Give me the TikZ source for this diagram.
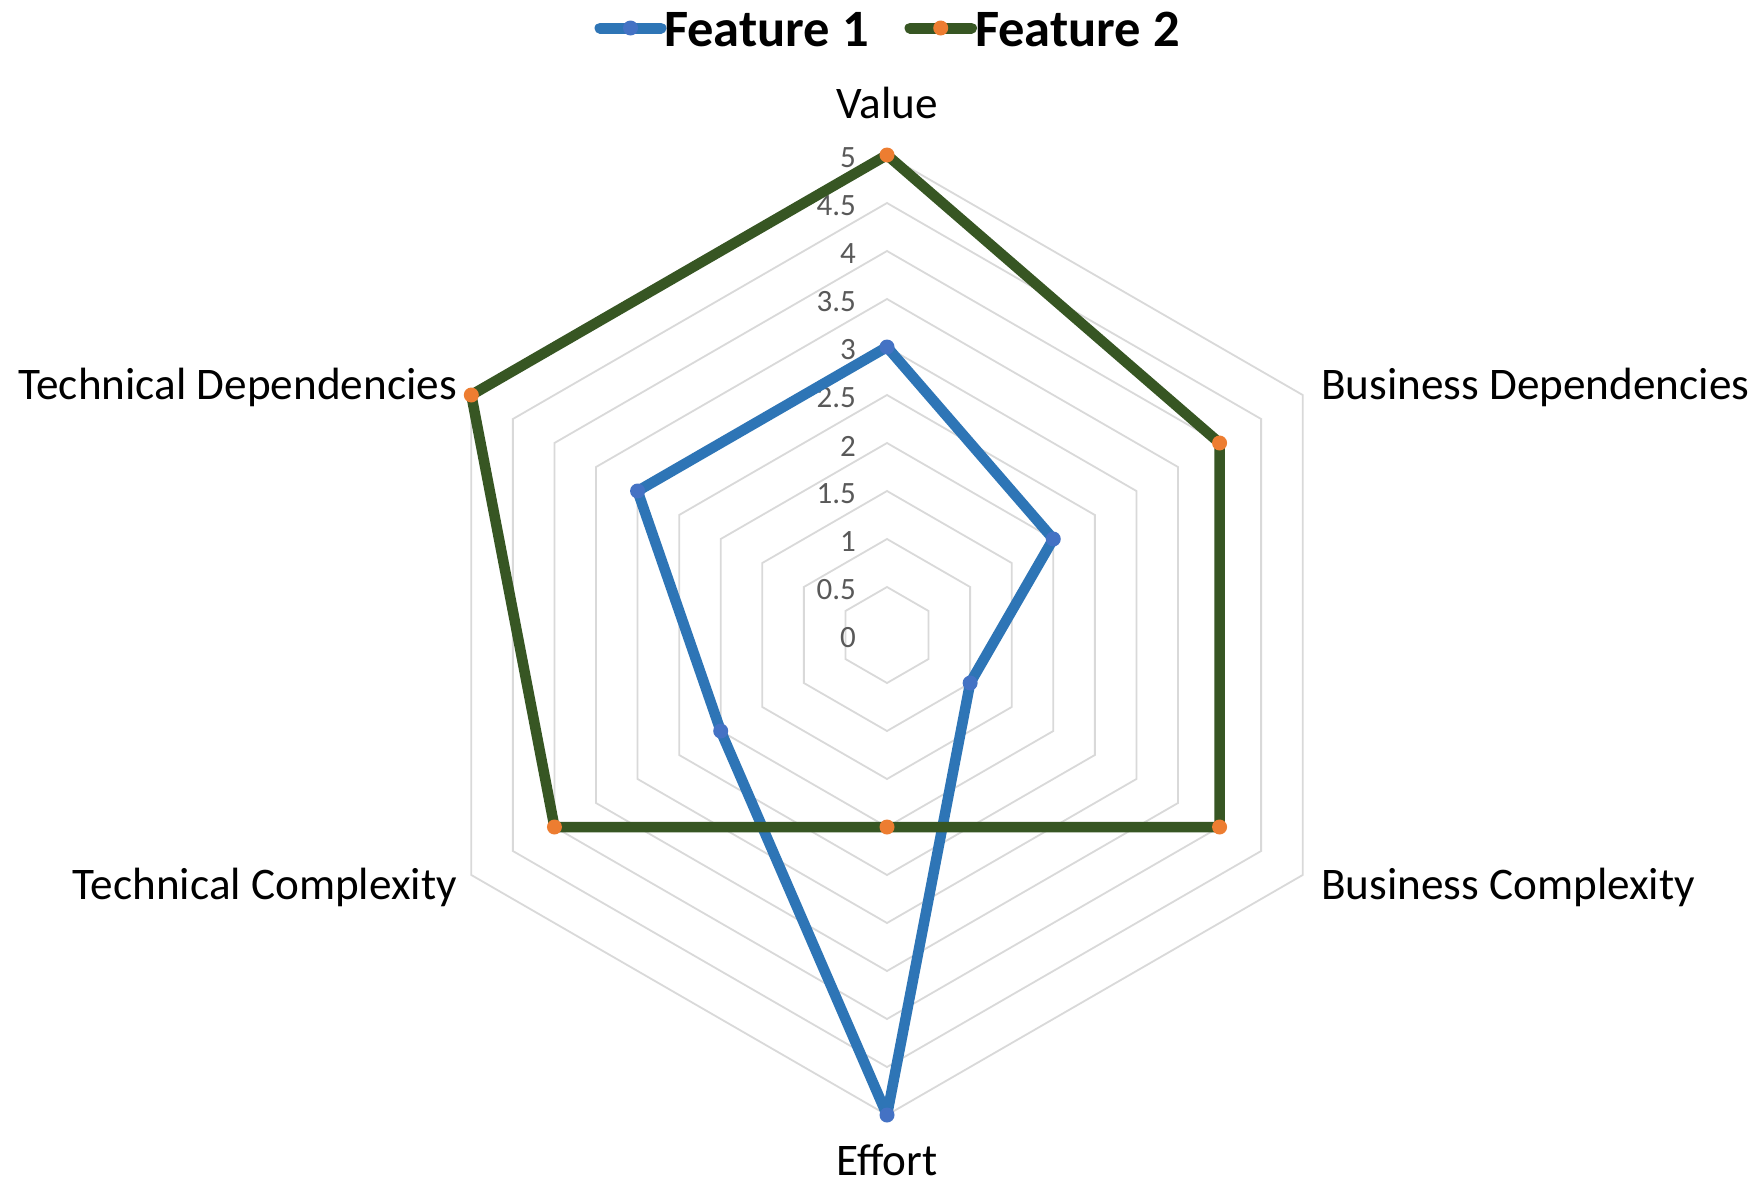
\documentclass[tikz,border=0pt]{standalone}
\usepackage{fontspec}
\setmainfont{Carlito}
\definecolor{gridgray}{HTML}{D9D9D9}
\definecolor{tickgray}{HTML}{595959}
\definecolor{f1blue}{HTML}{2E75B6}
\definecolor{f1dot}{HTML}{4472C4}
\definecolor{f2green}{HTML}{375623}
\definecolor{f2dot}{HTML}{ED7D31}
\begin{document}
\begin{tikzpicture}[x=1pt,y=1pt,
  ring/.style={draw=gridgray,line width=1.8pt,line join=miter},
  f1line/.style={draw=f1blue,line width=10.5pt,line join=round,line cap=round},
  f2line/.style={draw=f2green,line width=10.5pt,line join=round,line cap=round},
  f1mark/.style={circle,fill=f1dot,inner sep=0pt,minimum size=15pt},
  f2mark/.style={circle,fill=f2dot,inner sep=0pt,minimum size=15pt},
  ticklabel/.style={anchor=east,text=tickgray,inner sep=0pt,font=\fontsize{31}{36}\selectfont},
  catlabel/.style={inner sep=0pt,font=\fontsize{45.2}{52}\selectfont},
  legtext/.style={anchor=base west,inner sep=0pt,font=\fontsize{52.5}{60}\selectfont\bfseries}
]
\fill[white] (0,0) rectangle (1757,-1183);
\useasboundingbox (0,0) rectangle (1757,-1183);

% radar grid and series, centred on the chart origin
\begin{scope}[shift={(887,-635)}]
  \foreach \k in {1,...,10}{
    \pgfmathsetmacro{\r}{48*\k}
    \draw[ring] (90:\r) -- (30:\r) -- (-30:\r) -- (-90:\r) -- (-150:\r) -- (150:\r) -- cycle;
  }
  \foreach \k/\t in {0/0,1/0.5,2/1,3/1.5,4/2,5/2.5,6/3,7/3.5,8/4,9/4.5,10/5}{
    \node[ticklabel] (tick\k) at (-31,48*\k-3) {\t};
  }

  % Feature 1: 3, 2, 1, 5, 2, 3
  \coordinate (a1) at (90:288);
  \coordinate (b1) at (30:192);
  \coordinate (c1) at (-30:96);
  \coordinate (d1) at (-90:480);
  \coordinate (e1) at (-150:192);
  \coordinate (g1) at (150:288);
  \draw[f1line] (a1) -- (b1) -- (c1) -- (d1) -- (e1) -- (g1) -- cycle;
  \foreach \p in {a1,b1,c1,d1,e1,g1}{ \node[f1mark] at (\p) {}; }

  % Feature 2: 5, 4, 4, 2, 4, 5
  \coordinate (a2) at (90:480);
  \coordinate (b2) at (30:384);
  \coordinate (c2) at (-30:384);
  \coordinate (d2) at (-90:192);
  \coordinate (e2) at (-150:384);
  \coordinate (g2) at (150:480);
  \draw[f2line] (a2) -- (b2) -- (c2) -- (d2) -- (e2) -- (g2) -- cycle;
  \foreach \p in {a2,b2,c2,d2,e2,g2}{ \node[f2mark] at (\p) {}; }
\end{scope}

% category labels
\node[catlabel,anchor=base] (lvalue) at (887,-118) {Value};
\node[catlabel,anchor=base west] (lbdep) at (1321,-399) {Business Dependencies};
\node[catlabel,anchor=base west] (lbcx) at (1321,-899) {Business Complexity};
\node[catlabel,anchor=base] (leffort) at (887,-1175) {Effort};
\node[catlabel,anchor=base east] (ltcx) at (457,-899) {Technical Complexity};
\node[catlabel,anchor=base east] (ltdep) at (457,-399) {Technical Dependencies};

% legend
\coordinate (k1a) at (600,-28);
\coordinate (k1b) at (661,-28);
\draw[f1line,line width=11pt] (k1a) -- (k1b);
\node[f1mark] (k1m) at (630.5,-28) {};
\node[legtext] (k1t) at (664,-46) {Feature 1};
\coordinate (k2a) at (910,-28);
\coordinate (k2b) at (971.5,-28);
\draw[f2line,line width=11pt] (k2a) -- (k2b);
\node[f2mark] (k2m) at (940.7,-28) {};
\node[legtext] (k2t) at (975,-46) {Feature 2};
\end{tikzpicture}
\end{document}
